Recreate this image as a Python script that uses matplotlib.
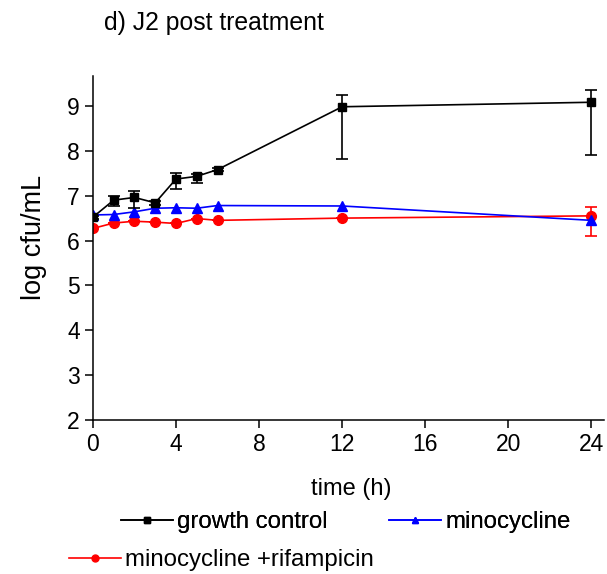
import numpy as np
import matplotlib
matplotlib.use('Agg')
import matplotlib.pyplot as plt
from matplotlib.lines import Line2D

plt.rcParams['font.family'] = ['Liberation Sans', 'DejaVu Sans']

# ── Data ─────────────────────────────────────────────────────────────────────
time_h = [0, 1, 2, 3, 4, 5, 6, 12, 24]

growth = [6.52, 6.90, 6.96, 6.84, 7.37, 7.43, 7.58, 8.98, 9.08]
growth_err_lo = [0.03, 0.14, 0.24, 0.05, 0.23, 0.14, 0.04, 1.16, 1.18]
growth_err_hi = [0.03, 0.10, 0.15, 0.05, 0.14, 0.06, 0.04, 0.27, 0.28]

mino = [6.57, 6.58, 6.64, 6.72, 6.73, 6.72, 6.78, 6.77, 6.45]

mino_rif = [6.27, 6.39, 6.43, 6.41, 6.38, 6.49, 6.45, 6.50, 6.55]
mino_rif_err_lo = [0, 0, 0, 0, 0, 0, 0, 0, 0.45]
mino_rif_err_hi = [0, 0, 0, 0, 0, 0, 0, 0, 0.20]

x_ticks = [0, 4, 8, 12, 16, 20, 24]
y_ticks = [2, 3, 4, 5, 6, 7, 8, 9]

# ── Plot ─────────────────────────────────────────────────────────────────────
fig = plt.figure(figsize=(6.07, 5.74), dpi=100)
ax = fig.add_axes([0.153, 0.268, 0.842, 0.6])

ax.errorbar(time_h, growth, yerr=[growth_err_lo, growth_err_hi],
            color='black', marker='s', ms=6, lw=1.2, capsize=4,
            elinewidth=1.2, capthick=1.2, zorder=3)
ax.plot(time_h, mino, color='#0000ff', marker='^', ms=7, lw=1.2, zorder=2)
ax.errorbar(time_h, mino_rif, yerr=[mino_rif_err_lo, mino_rif_err_hi],
            color='#ff0000', marker='o', ms=7, lw=1.2, capsize=4,
            elinewidth=1.2, capthick=1.2, zorder=1)

ax.set_xlim(0, 24.6)
ax.set_ylim(2, 9.67)
ax.set_xticks(x_ticks)
ax.set_yticks(y_ticks)
ax.tick_params(direction='out', length=6, width=1.1, labelsize=16.5, pad=3.5)
for side in ('top', 'right'):
    ax.spines[side].set_visible(False)
for side in ('left', 'bottom'):
    ax.spines[side].set_linewidth(1.1)

ax.set_xlabel('time (h)', fontsize=17, va='center')
ax.xaxis.set_label_coords(0.505, -0.2006)
ax.set_ylabel('log cfu/mL', fontsize=19.5, va='center')
ax.yaxis.set_label_coords(-0.115, 0.532)

fig.text(104 / 607, 0.981, 'd) J2 post treatment', fontsize=17.8,
         va='top', ha='left')

# legend: two rows laid out like the original
h_gc = Line2D([], [], color='black', marker='s', ms=5, lw=1.2)
h_mi = Line2D([], [], color='#0000ff', marker='^', ms=5, lw=1.2)
h_mr = Line2D([], [], color='#ff0000', marker='o', ms=5, lw=1.2)

leg_kw = dict(frameon=False, fontsize=17.3, handlelength=2.15,
              handletextpad=0.2, borderaxespad=0, borderpad=0)
leg1 = fig.legend([h_gc, h_mi], ['growth control', 'minocycline'],
                  loc='center left', bbox_to_anchor=(121 / 607, 0.0906),
                  ncol=2, columnspacing=2.55, **leg_kw)
fig.legend([h_mr], ['minocycline +rifampicin'],
           loc='center left', bbox_to_anchor=(69 / 607, 0.0244), **leg_kw)
fig.add_artist(leg1)

fig.savefig('out.png', dpi=100)
